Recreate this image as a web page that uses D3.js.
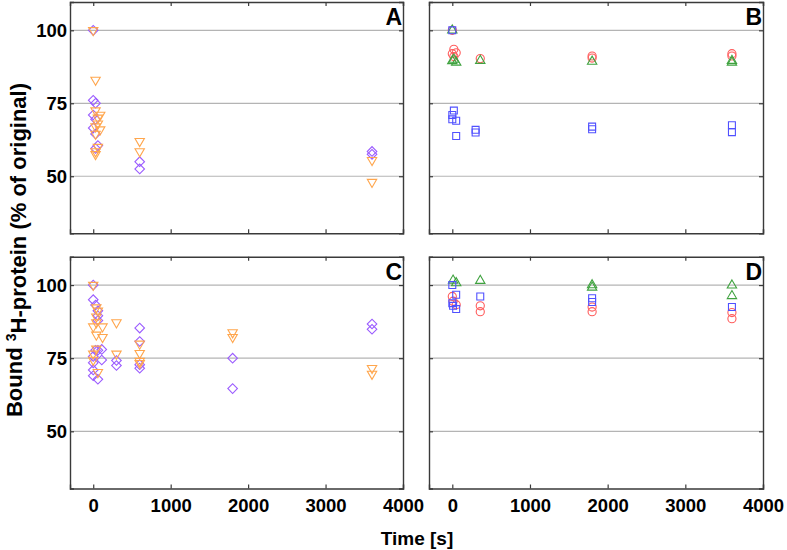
<!DOCTYPE html>
<html><head><meta charset="utf-8">
<script src="https://cdn.jsdelivr.net/npm/d3@7"></script>
<style>
body{margin:0;background:#fff;}
svg text{font-family:"Liberation Sans",Arial,sans-serif;font-weight:bold;}
</style></head>
<body><svg id="c" width="787" height="550"></svg>
<script>
// ---- data: [time (s), bound %] ----
const xTicks = [0, 1000, 2000, 3000, 4000];
const yTicks = [50, 75, 100];
const panelLabels = ["A", "B", "C", "D"];

const A_diamond = [[0,100],[0,76],[30,75],[0,71],[30,69.5],[0,66.5],[30,64.5],[60,60.5],[30,59.5],[600,55],[600,52.5],[3600,58.5],[3600,57.5]];
const A_triangle = [[0,100],[30,83],[30,72.5],[90,71],[60,70],[60,68],[30,67],[90,66],[30,64.5],[60,60],[30,58.5],[30,57.5],[600,62],[600,58.5],[3600,55.5],[3600,48]];

const B_circle = [[0,100],[20,93.5],[50,92.3],[0,92],[20,91],[360,90.3],[1800,91.2],[1800,90.5],[3600,92],[3600,91.2]];
const B_triangle = [[0,100],[0,89.5],[50,89],[20,90],[360,89.6],[1800,89.3],[3600,89.6],[3600,89]];
const B_square = [[0,100],[20,72.5],[0,71],[0,69.5],[50,69],[50,63.8],[300,65.9],[300,65],[1800,67],[1800,66.1],[3600,67.5],[3600,65.1]];

const C_diamond = [[0,100],[0,95],[30,93.2],[60,91.2],[60,89.5],[60,87.9],[30,77.7],[60,77.7],[110,78],[0,75.6],[110,74.4],[0,73.4],[0,71],[0,69],[60,67.8],[300,74.2],[300,72.5],[600,85.3],[600,80.7],[600,72.8],[600,71.6],[1800,75],[1800,64.6],[3600,86.7],[3600,84.9]];
const C_triangle = [[0,100],[40,92.3],[60,91.2],[40,89.2],[40,87.2],[0,85.8],[120,85.8],[40,83],[120,82.2],[40,78.2],[0,76.5],[0,74.4],[60,70.2],[300,87.2],[300,76.5],[600,79.9],[600,76.7],[600,74],[600,73.3],[1800,83.8],[1800,82.2],[3600,71.6],[3600,69.6]];

const D_circle = [[0,96.1],[50,93.3],[10,94.5],[360,92.9],[360,90.9],[1800,92.5],[1800,90.9],[3600,90.6],[3600,88.5]];
const D_triangle = [[10,101.6],[50,100.7],[360,101.5],[1800,100],[1800,99.2],[3600,99.9],[3600,96.3]];
const D_square = [[0,100],[50,96.7],[0,93.8],[10,92.9],[50,91.8],[360,96.1],[1800,95.5],[1800,94.2],[3600,92.5]];

// ---- styles ----
const colPurple = "#9b5cff", colOrange = "#ffa64d", colRed = "#ff5c5c", colGreen = "#3fa23f", colBlue = "#5050ff";

const svg = d3.select("#c");
const cols = [[70, 403], [429, 763]];
const rows = [[2, 233.3], [256.7, 488.5]];
const xDomain = [-300, 4000], yDomain = [30.45, 109.7];

const shapes = {
  diamond: {type: d3.symbolSquare, size: 46, rot: 45},
  tridown: {type: d3.symbolTriangle, size: 38, rot: 180},
  triup: {type: d3.symbolTriangle, size: 38, rot: 0},
  circle: {type: d3.symbolCircle, size: 52, rot: 0},
  square: {type: d3.symbolSquare, size: 48, rot: 0}
};

const panels = [
  {r:0, c:0, series:[{d:A_diamond, s:"diamond", col:colPurple},{d:A_triangle, s:"tridown", col:colOrange}]},
  {r:0, c:1, series:[{d:B_circle, s:"circle", col:colRed},{d:B_triangle, s:"triup", col:colGreen},{d:B_square, s:"square", col:colBlue}]},
  {r:1, c:0, series:[{d:C_diamond, s:"diamond", col:colPurple},{d:C_triangle, s:"tridown", col:colOrange}]},
  {r:1, c:1, series:[{d:D_circle, s:"circle", col:colRed},{d:D_triangle, s:"triup", col:colGreen},{d:D_square, s:"square", col:colBlue}]}
];

panels.forEach((p, i) => {
  const x = d3.scaleLinear().domain(xDomain).range(cols[p.c]);
  const y = d3.scaleLinear().domain(yDomain).range([rows[p.r][1], rows[p.r][0]]);
  const g = svg.append("g");
  // grid
  g.selectAll("line.grid").data(yTicks).join("line")
    .attr("x1", cols[p.c][0]).attr("x2", cols[p.c][1])
    .attr("y1", d => y(d)).attr("y2", d => y(d))
    .attr("stroke", "#b4b4b4").attr("stroke-width", 1.2);
  // axes
  const fmtNone = () => "";
  const top = g.append("g").attr("transform", `translate(0,${rows[p.r][0]})`)
    .call(d3.axisTop(x).tickValues(xTicks).tickSize(-4).tickFormat(fmtNone));
  const bot = g.append("g").attr("transform", `translate(0,${rows[p.r][1]})`)
    .call(d3.axisBottom(x).tickValues(xTicks).tickSize(-4).tickPadding(10)
      .tickFormat(p.r === 1 ? d3.format("d") : fmtNone));
  const left = g.append("g").attr("transform", `translate(${cols[p.c][0]},0)`)
    .call(d3.axisLeft(y).tickValues(yTicks).tickSize(-4).tickPadding(3)
      .tickFormat(p.c === 0 ? d3.format("d") : fmtNone));
  const right = g.append("g").attr("transform", `translate(${cols[p.c][1]},0)`)
    .call(d3.axisRight(y).tickValues(yTicks).tickSize(-4).tickFormat(fmtNone));
  [top, bot, left, right].forEach(a => {
    a.select(".domain").attr("stroke", "#3a3a3a").attr("stroke-width", 1.4);
    a.selectAll(".tick line").attr("stroke", "#3a3a3a").attr("stroke-width", 1.2);
    a.selectAll(".tick text").attr("fill", "#000").style("font-size", "18.5px")
      .style("font-family", "'Liberation Sans',Arial,sans-serif").style("font-weight", "bold");
  });
  left.selectAll(".tick text").attr("dy", "0.36em");
  // markers
  p.series.forEach(s => {
    const sh = shapes[s.s];
    const sym = d3.symbol().type(sh.type).size(sh.size);
    g.selectAll(null).data(s.d).join("path")
      .attr("d", sym)
      .attr("transform", d => `translate(${x(d[0])},${y(d[1])}) rotate(${sh.rot})`)
      .attr("fill", "none").attr("stroke", s.col).attr("stroke-width", 1.1);
  });
  // panel letter
  g.append("text").attr("x", cols[p.c][1] - 1).attr("y", rows[p.r][0] + 23)
    .attr("text-anchor", "end").style("font-size", "23px").text(panelLabels[i]);
});

// axis titles
svg.append("text").attr("x", 417).attr("y", 545).attr("text-anchor", "middle")
  .style("font-size", "19px").text("Time [s]");
const yt = svg.append("text").attr("transform", "translate(22,250) rotate(-90)")
  .attr("text-anchor", "middle").style("font-size", "22px");
yt.append("tspan").text("Bound ");
yt.append("tspan").attr("dy", "-0.45em").style("font-size", "14px").text("3");
yt.append("tspan").attr("dy", "0.45em").text("H-protein (% of original)");
</script></body></html>
